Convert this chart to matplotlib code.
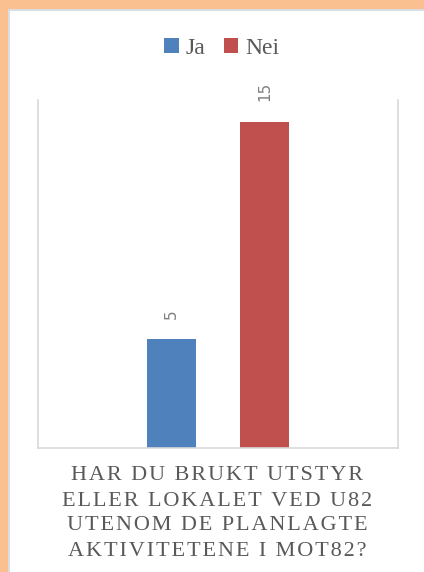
import matplotlib.pyplot as plt
from matplotlib.patches import Rectangle

series = ['Ja', 'Nei']
values = [5, 15]
colors = ['#4F81BD', '#C0504D']
title_lines = ['HAR DU BRUKT UTSTYR', 'ELLER LOKALET VED U82',
               'UTENOM DE PLANLAGTE', 'AKTIVITETENE I MOT82?']

fig = plt.figure(figsize=(4.24, 5.72), dpi=100)
fig.patch.set_facecolor('white')

# orange frame on top and left, with thin grey edge
fig.patches.append(Rectangle((0, 1 - 9/572), 1, 9/572, transform=fig.transFigure,
                             facecolor='#FAC090', edgecolor='none', zorder=0))
fig.patches.append(Rectangle((0, 0), 8/424, 1, transform=fig.transFigure,
                             facecolor='#FAC090', edgecolor='none', zorder=0))
fig.patches.append(Rectangle((8/424, 0), 2/424, 1 - 9/572, transform=fig.transFigure,
                             facecolor='#DADDE3', edgecolor='none', zorder=0))
fig.patches.append(Rectangle((8/424, 1 - 11/572), 1, 2/572, transform=fig.transFigure,
                             facecolor='#DADDE3', edgecolor='none', zorder=0))

ax = fig.add_axes([38/424, 1 - 448/572, 360/424, 348/572])
offsets = [-0.129, 0.129]
for i in range(len(series)):
    ax.bar(offsets[i], values[i], width=0.136, color=colors[i], label=series[i], zorder=2)
    ax.text(offsets[i], values[i] + 0.95, str(values[i]), rotation=90, ha='center', va='bottom',
            fontsize=11, color='#7F7F7F')

ax.set_xlim(-0.5, 0.5)
ax.set_ylim(0, 16)
ax.set_xticks([])
ax.set_yticks([])
ax.spines['top'].set_visible(False)
for s in ['left', 'right', 'bottom']:
    ax.spines[s].set_color('#D9D9D9')
    ax.spines[s].set_linewidth(1.2)

fig.legend(loc='center', bbox_to_anchor=(222/424, 1 - 48/572), ncol=2, frameon=False,
           handlelength=0.6, handleheight=0.6, handletextpad=0.3, columnspacing=0.8,
           prop={'family': 'Liberation Serif', 'size': 17}, labelcolor='#595959')

# letter-spaced category title, one text per line
for k, line in enumerate(title_lines):
    fig.text(217/424, 1 - (476 + 25 * k)/572, '\u200a'.join(line), ha='center', va='center',
             fontsize=16, family=['Liberation Serif', 'DejaVu Serif'], color='#595959')

fig.savefig('out.png', dpi=100)
